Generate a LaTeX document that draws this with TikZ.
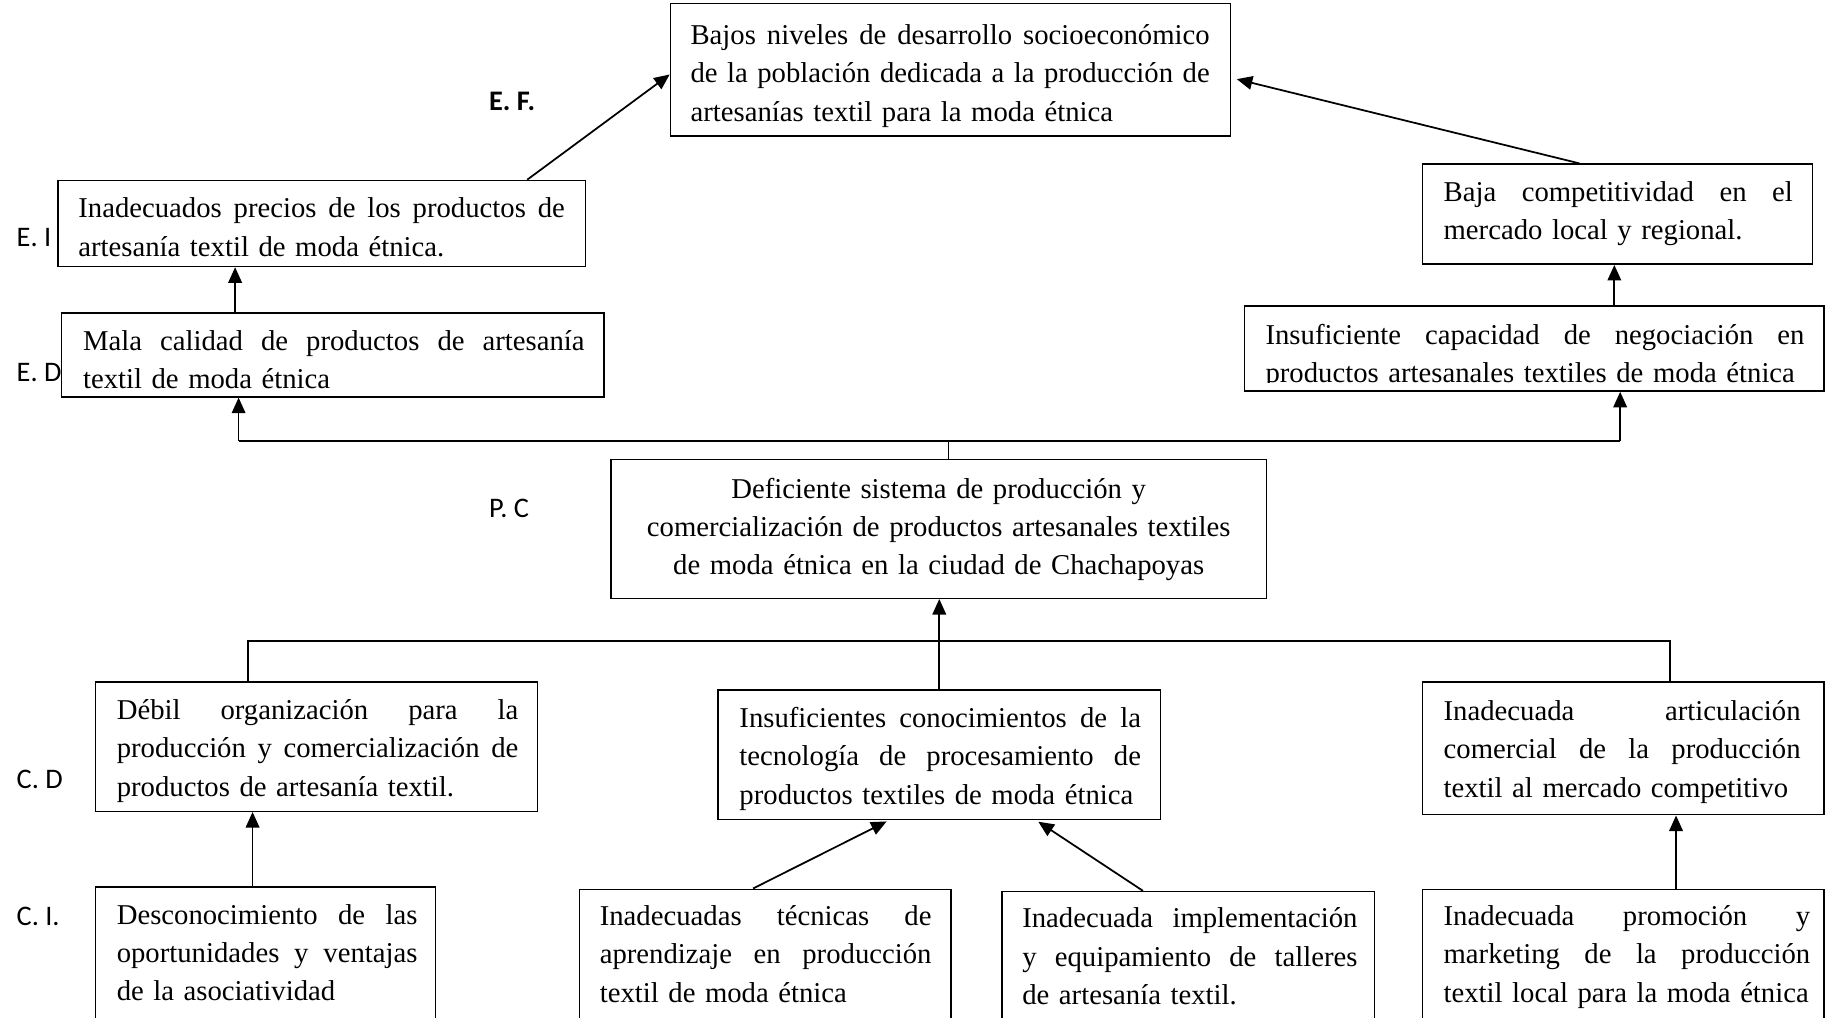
\documentclass[tikz,border=0pt]{standalone}
\usepackage{fontspec}
\setmainfont{Liberation Serif}
\newfontfamily\lblfont{Carlito}
\usetikzlibrary{arrows.meta,fit}
\newcommand\jline[1]{\leavevmode\hbox to\hsize{\spaceskip=.25em plus 1fil\relax #1}}
\begin{document}
\begin{tikzpicture}[x=0.6pt,y=-0.6pt,
  box/.style={draw, line width=0.75pt, inner sep=0pt},
  txt/.style={inner sep=0pt, align=left, anchor=base west, font=\fontsize{14.8}{19.8}\selectfont},
  lbl/.style={inner sep=0pt, anchor=west, font=\lblfont\fontsize{14.6}{17}\selectfont},
  arr/.style={-{Triangle[length=8pt,width=7pt]}, line width=0.9pt},
  ln/.style={line width=0.9pt}]
\clip (0,0) rectangle (1568,874);
\fill[white] (0,0) rectangle (1568,874);

% boxes
\node[box, fit={(576,3) (1057,117)}] (top) {};
\node[box, fit={(50,155) (503,229)}] (ei) {};
\node[box, fit={(53,269) (519,341)}] (ed) {};
\node[box, fit={(1222,141) (1557,227)}] (baja) {};
\node[box, fit={(1069,263) (1567,336)}] (ic) {};
\node[box, fit={(525,395) (1088,514)}] (pc) {};
\node[box, fit={(82,586) (462,697)}] (cd1) {};
\node[box, fit={(617,593) (997,704)}] (cd2) {};
\node[box, fit={(1222,586) (1567,700)}] (cd3) {};
\node[box, fit={(82,762) (374,900)}] (ci1) {};
\node[box, fit={(498,764) (817,900)}] (ci2) {};
\node[box, fit={(861,766) (1181,900)}] (ci3) {};
\node[box, fit={(1222,764) (1567,900)}] (ci4) {};

% texts
\node[txt, text width=267.6pt] (topt) at (593,38) {\jline{Bajos niveles de desarrollo socioeconómico}\\\jline{de la población dedicada a la producción de}\\artesanías textil para la moda étnica};
\node[txt, text width=250.8pt] (eit) at (67,187) {\jline{Inadecuados precios de los productos de}\\artesanía textil de moda étnica.};
\begin{scope}
\clip (53,269) rectangle (519,333.5);
\node[txt, text width=258.6pt] (edt) at (71,301) {\jline{Mala calidad de productos de artesanía}\\textil de moda étnica};
\end{scope}
\node[txt, text width=180pt] (bajat) at (1240,173) {\jline{Baja competitividad en el}\\mercado local y regional.};
\begin{scope}
\clip (1069,263) rectangle (1567,328.5);
\node[txt, text width=277.8pt] (ict) at (1087,296) {\jline{Insuficiente capacidad de negociación en}\\productos artesanales textiles de moda étnica};
\end{scope}
\node[txt, anchor=base, align=center, text width=316.8pt] (pct) at (806.5,428) {Deficiente sistema de producción y\\comercialización de productos artesanales textiles\\de moda étnica en la ciudad de Chachapoyas};
\node[txt, text width=207pt] (cd1t) at (100,618) {\jline{Débil organización para la}\\\jline{producción y comercialización de}\\productos de artesanía textil.};
\node[txt, text width=207pt] (cd2t) at (635,625) {\jline{Insuficientes conocimientos de la}\\\jline{tecnología de procesamiento de}\\productos textiles de moda étnica};
\node[txt, text width=184pt] (cd3t) at (1240,619) {\jline{Inadecuada articulación}\\\jline{comercial de la producción}\\textil al mercado competitivo};
\node[txt, text width=155pt] (ci1t) at (100,794) {\jline{Desconocimiento de las}\\\jline{oportunidades y ventajas}\\de la asociatividad};
\node[txt, text width=171pt] (ci2t) at (515,795) {\jline{Inadecuadas técnicas de}\\\jline{aprendizaje en producción}\\textil de moda étnica};
\node[txt, text width=172.8pt] (ci3t) at (878,797) {\jline{Inadecuada implementación}\\\jline{y equipamiento de talleres}\\de artesanía textil.};
\node[txt, text width=189pt] (ci4t) at (1240,795) {\jline{Inadecuada promoción y}\\\jline{marketing de la producción}\\textil local para la moda étnica};

% labels
\node[lbl, anchor=center, font=\lblfont\bfseries\fontsize{14.6}{17}\selectfont] (lef) at (440,87) {E. F.};
\node[lbl] (lei) at (14,204) {E. I};
\node[lbl] (led) at (14,320) {E. D};
\node[lbl] (lpc) at (420,437) {P. C};
\node[lbl] (lcd) at (14,670) {C. D};
\node[lbl] (lci) at (14,787) {C. I.};

% connectors
\draw[arr] (453,0 |- ei.north) -- ([yshift=-2.4pt]top.west);
\draw[arr] (1357,0 |- baja.north) -- ([shift={(3pt,-4.8pt)}]top.east);
\draw[arr] (202,0 |- ed.north) -- (202,0 |- ei.south);
\draw[arr] (1387,0 |- ic.north) -- (1387,0 |- baja.south);
\coordinate (jc) at (815,379);
\coordinate (jl) at (205,379);
\coordinate (jr) at (1392,379);
\draw[ln] (jc |- pc.north) -- (jc);
\draw[ln] (jl) -- (jr);
\draw[arr] (jl) -- (jl |- ed.south);
\draw[arr] (jr) -- (jr |- ic.south);
\coordinate (kl) at (213,551);
\coordinate (kr) at (1435,551);
\draw[ln] (kl |- cd1.north) -- (kl) -- (kr) -- (kr |- cd3.north);
\draw[arr] (cd2.north) -- (cd2.north |- pc.south);
\draw[arr] (217,0 |- ci1.north) -- (217,0 |- cd1.south);
\draw[arr, shorten >=1.5pt] (647,0 |- ci2.north) -- (764,0 |- cd2.south);
\draw[arr, shorten >=1.5pt] (982,0 |- ci3.north) -- (890,0 |- cd2.south);
\draw[arr] (1440,0 |- ci4.north) -- (1440,0 |- cd3.south);
\end{tikzpicture}
\end{document}
